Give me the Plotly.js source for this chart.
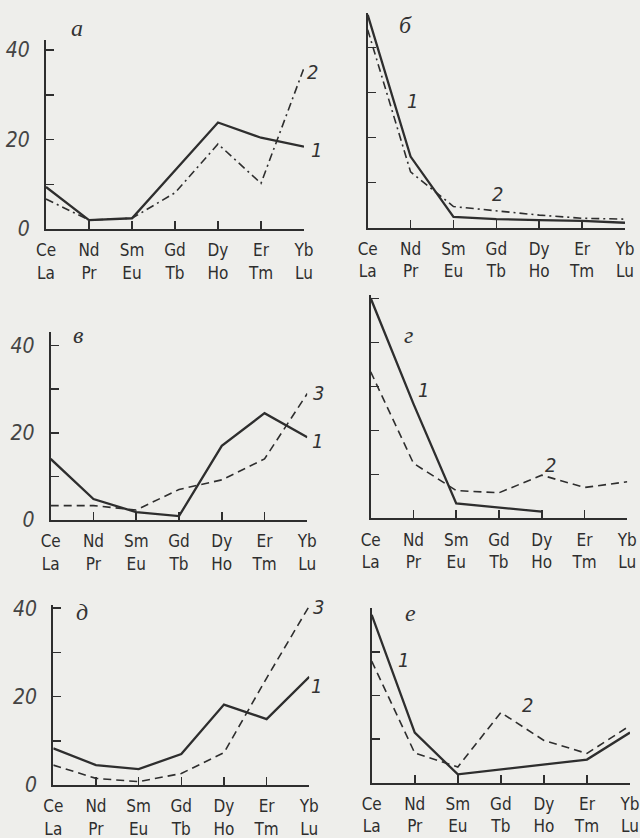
<!DOCTYPE html>
<html>
<head>
<meta charset="utf-8">
<script src="https://cdn.plot.ly/plotly-3.0.1.min.js"></script>
<style>
html,body{margin:0;padding:0;background:#eeeeeb;}
#chart{width:640px;height:838px;}
</style>
</head>
<body>
<div id="chart"></div>
<script>
// ---- data ----
var elementsTop = ['Ce','Nd','Sm','Gd','Dy','Er','Yb'];
var elementsBottom = ['La','Pr','Eu','Tb','Ho','Tm','Lu'];
var yTickVals = [0,10,20,30,40,50];
var yTickLabels = ['0','','20','','40',''];

var panelLetters = ['а','б','в','г','д','е'];

var a_curve1 = [9.4, 2.0, 2.4, 13.0, 23.8, 20.4, 18.4];
var a_curve2 = [6.7, 2.0, 2.4, 8.1, 19.0, 10.2, 36.0];

var b_curve1 = [47.3, 15.8, 2.4, 1.9, 1.7, 1.5, 1.1];
var b_curve2 = [44.0, 12.4, 4.7, 3.7, 2.8, 2.1, 1.9];

var v_curve1 = [14.0, 4.8, 1.8, 0.9, 17.0, 24.5, 19.0];
var v_curve3 = [3.3, 3.3, 2.3, 7.0, 9.2, 14.0, 29.0];

var g_curve1 = [50.0, 26.0, 3.4, 2.4, 1.5, null, null];
var g_curve2 = [33.3, 12.5, 6.3, 5.8, 9.8, 7.0, 8.3];

var d_curve1 = [8.3, 4.5, 3.6, 7.0, 18.2, 14.9, 24.5];
var d_curve3 = [4.5, 1.5, 0.75, 2.6, 7.3, 24.2, 40.5];

var e_curve1 = [38.5, 11.5, 1.9, 3.0, 4.2, 5.3, 11.5];
var e_curve2 = [27.9, 6.8, 3.6, 16.1, 9.7, 6.7, 13.1];

var curveNumbers = [['1','2'],['1','2'],['1','3'],['1','2'],['1','3'],['1','2']];

// ---- layout helpers (pixel geometry) ----
var W = 640, H = 838;
var ink = '#2e2e2e';
var panels = [
  {xl:46,   xr:304,   y0:229,   ppu:4.475, ymax:42.2, left:true,  s1:a_curve1, s2:a_curve2, dash:'8px,4px,2px,4px',
   letter:[77,28], n1:[316,150], n2:[312,72]},
  {xl:367.7,xr:625,   y0:227.7, ppu:4.5,   ymax:47.7, left:false, s1:b_curve1, s2:b_curve2, dash:'8px,4px,2px,4px',
   letter:[405,25], n1:[412,101], n2:[497,194]},
  {xl:50.7, xr:307.3, y0:520,   ppu:4.36,  ymax:43.2, left:true,  s1:v_curve1, s2:v_curve3, dash:'8px,5px',
   letter:[78,335], n1:[317,441], n2:[318,393]},
  {xl:370.7,xr:627.3, y0:518.3, ppu:4.4,   ymax:50.8, left:false, s1:g_curve1, s2:g_curve2, dash:'8px,5px',
   letter:[408,335], n1:[423,390], n2:[550,465]},
  {xl:53.3, xr:309.3, y0:785,   ppu:4.42,  ymax:40.8, left:true,  s1:d_curve1, s2:d_curve3, dash:'8px,5px',
   letter:[82,612], n1:[316,686], n2:[318,607]},
  {xl:371.7,xr:630,   y0:782.7, ppu:4.36,  ymax:40.0, left:false, s1:e_curve1, s2:e_curve2, dash:'8px,5px',
   letter:[410,613], n1:[403,660], n2:[527,705]}
];

var xIdx = elementsTop.map(function(_, i){ return i; });
var xTickText = elementsTop.map(function(t, i){ return t + '<br>' + elementsBottom[i]; });

var traces = [];
var layout = {
  width: W, height: H,
  margin: {l:0, r:0, t:0, b:0},
  paper_bgcolor: '#eeeeeb',
  plot_bgcolor: 'rgba(0,0,0,0)',
  showlegend: false,
  annotations: []
};

function fx(px){ return px / W; }
function fy(py){ return 1 - py / H; }

panels.forEach(function(p, k){
  var n = k + 1;
  var xa = 'x' + (n === 1 ? '' : n);
  var ya = 'y' + (n === 1 ? '' : n);
  traces.push({x: xIdx, y: p.s1, xaxis: xa, yaxis: ya, type: 'scatter', mode: 'lines',
    line: {color: ink, width: 2.3}, cliponaxis: false, connectgaps: false, hoverinfo: 'skip'});
  traces.push({x: xIdx, y: p.s2, xaxis: xa, yaxis: ya, type: 'scatter', mode: 'lines',
    line: {color: ink, width: 1.6, dash: p.dash}, cliponaxis: false, hoverinfo: 'skip'});

  var yTop = p.y0 - p.ymax * p.ppu;
  layout['xaxis' + (n === 1 ? '' : n)] = {
    domain: [fx(p.xl), fx(p.xr)], anchor: ya, range: [0, 6],
    tickvals: xIdx, ticktext: xTickText, ticks: 'inside', ticklen: 8, tickwidth: 1.5, tickcolor: ink,
    showline: true, linecolor: ink, linewidth: 2, showgrid: false, zeroline: false,
    tickfont: {family: 'DejaVu Sans Condensed, DejaVu Sans', size: 17, color: '#2e2e2e'},
    ticklabelstandoff: 5, fixedrange: true
  };
  layout['yaxis' + (n === 1 ? '' : n)] = {
    domain: [fy(p.y0), fy(yTop)], anchor: xa, range: [0, p.ymax],
    tickvals: yTickVals, ticktext: p.left ? yTickLabels : yTickVals.map(function(){ return ''; }),
    ticks: 'inside', ticklen: 8, tickwidth: 1.5, tickcolor: ink,
    showline: true, linecolor: ink, linewidth: 2, showgrid: false, zeroline: false,
    tickfont: {family: 'DejaVu Sans Condensed, DejaVu Sans', size: 21, color: '#444', style: 'italic'},
    ticklabelstandoff: 10, fixedrange: true
  };

  layout.annotations.push({xref:'paper', yref:'paper', x: fx(p.letter[0]), y: fy(p.letter[1]),
    text: panelLetters[k], showarrow: false, xanchor:'center', yanchor:'middle',
    font: {family: 'Liberation Serif, DejaVu Serif', size: 24, color: '#333', style: 'italic'}});
  layout.annotations.push({xref:'paper', yref:'paper', x: fx(p.n1[0]), y: fy(p.n1[1]),
    text: curveNumbers[k][0], showarrow: false, xanchor:'center', yanchor:'middle',
    font: {family: 'DejaVu Sans Condensed, DejaVu Sans', size: 20, color: '#333', style: 'italic'}});
  layout.annotations.push({xref:'paper', yref:'paper', x: fx(p.n2[0]), y: fy(p.n2[1]),
    text: curveNumbers[k][1], showarrow: false, xanchor:'center', yanchor:'middle',
    font: {family: 'DejaVu Sans Condensed, DejaVu Sans', size: 20, color: '#333', style: 'italic'}});
});

Plotly.newPlot('chart', traces, layout, {staticPlot: true, displayModeBar: false});
</script>
</body>
</html>
